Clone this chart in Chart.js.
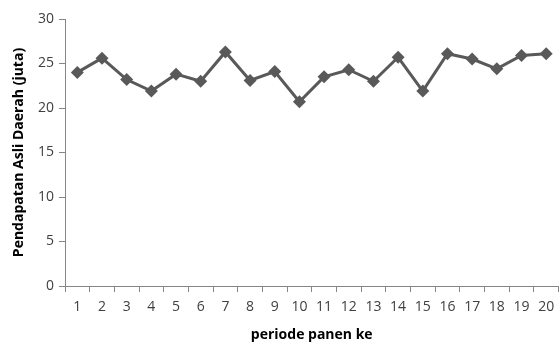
<!DOCTYPE html>
<html>
<head>
<meta charset="utf-8">
<script src="https://cdn.jsdelivr.net/npm/chart.js@4/dist/chart.umd.min.js"></script>
<style>
html,body{margin:0;padding:0;background:#fff;overflow:hidden;}
#wrap{width:560px;height:343px;overflow:hidden;position:relative;}
#box{width:565px;height:343px;position:absolute;left:0;top:0;}
</style>
</head>
<body>
<div id="wrap"><div id="box"><canvas id="c" width="565" height="343"></canvas></div></div>
<script>
const categories = ['1','2','3','4','5','6','7','8','9','10','11','12','13','14','15','16','17','18','19','20'];
const pendapatan = [24.0, 25.6, 23.2, 21.9, 23.8, 23.0, 26.3, 23.1, 24.1, 20.7, 23.5, 24.3, 23.0, 25.7, 21.9, 26.1, 25.5, 24.4, 25.9, 26.1];
const yTicks = [0, 5, 10, 15, 20, 25, 30];
const yTitle = 'Pendapatan Asli Daerah (juta)';
const xTitle = 'periode panen ke';

const axisColor = '#868686';
const tickFont = {family: 'Open Sans', size: 14};
const titleFont = {family: 'Open Sans', size: 14, weight: 'bold'};

new Chart(document.getElementById('c'), {
  type: 'line',
  data: {
    labels: categories,
    datasets: [{
      data: pendapatan,
      borderColor: '#595959',
      backgroundColor: '#595959',
      borderWidth: 3,
      pointStyle: 'rectRot',
      pointRadius: 6.5,
      pointBorderWidth: 0,
      pointBackgroundColor: '#595959',
      tension: 0,
      clip: false
    }]
  },
  options: {
    responsive: false,
    animation: false,
    devicePixelRatio: 1,
    layout: {padding: {left: 0, right: 3, top: 19, bottom: 0}},
    plugins: {legend: {display: false}, tooltip: {enabled: false}},
    scales: {
      x: {
        type: 'category',
        offset: true,
        grid: {offset: true, drawOnChartArea: false, drawTicks: true, tickLength: 6, color: axisColor},
        border: {display: true, color: axisColor, width: 1},
        ticks: {color: '#404040', font: tickFont, padding: 7, maxRotation: 0, autoSkip: false},
        title: {display: true, text: xTitle, color: '#000', font: titleFont, padding: {top: 4, bottom: 0}},
        afterFit: s => { s.height = 57; }
      },
      y: {
        min: 0, max: 30,
        afterBuildTicks: s => { s.ticks = yTicks.map(v => ({value: v})); },
        grid: {drawOnChartArea: false, drawTicks: true, tickLength: 6, color: axisColor},
        border: {display: true, color: axisColor, width: 1},
        ticks: {color: '#404040', font: tickFont, padding: 5},
        title: {display: true, text: yTitle, color: '#000', font: titleFont, padding: {top: 11, bottom: 0}},
        afterFit: s => { s.width = 65; }
      }
    }
  }
});
</script>
</body>
</html>
